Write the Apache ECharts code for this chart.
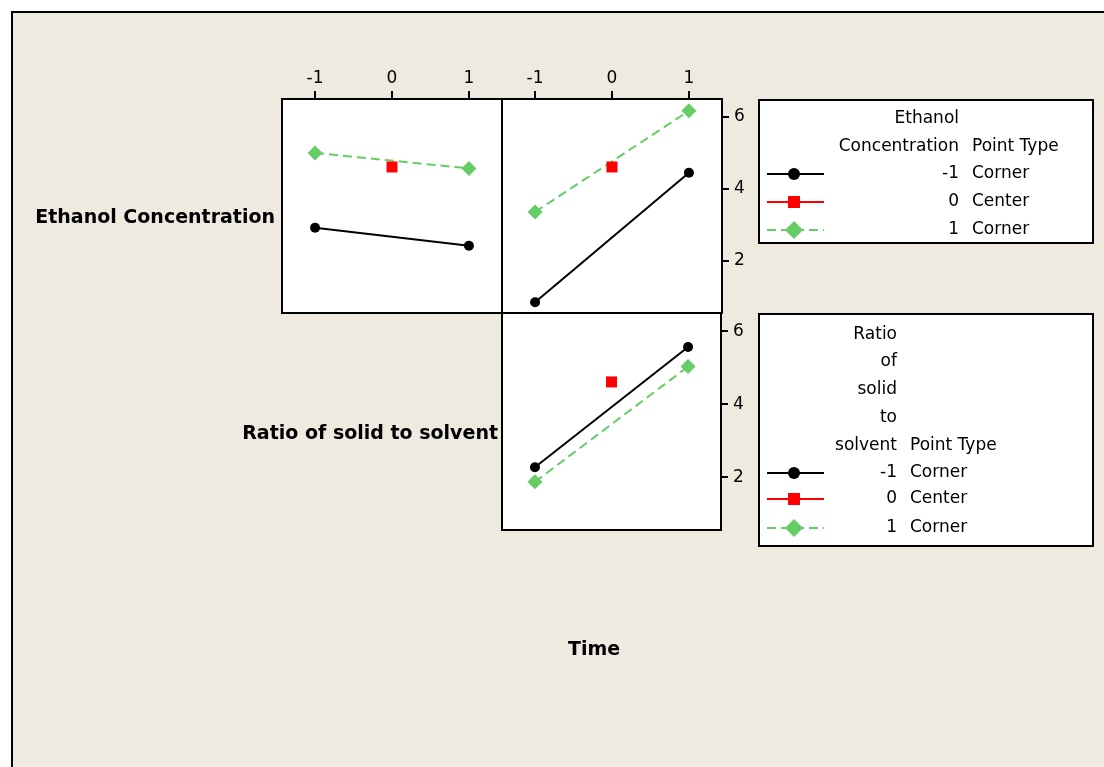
<!DOCTYPE html>
<html>
<head>
<meta charset="utf-8">
<script src="https://cdn.jsdelivr.net/npm/echarts@6/dist/echarts.min.js"></script>
<style>
  html, body { margin: 0; padding: 0; background: #fff; }
  #chart { width: 1104px; height: 767px; }
</style>
</head>
<body>
<div id="chart"></div>
<script>
// factor levels (coded)
var levels = [-1, 0, 1];
var axisTicks = [-1, 0, 1];
var yTicks = [2, 4, 6];

// panel 1: Ethanol Concentration traces vs Ratio of solid to solvent
var ethByRatioLow = [2.92, 2.42];
var ethByRatioHigh = [5.00, 4.57];
// panel 2: Ethanol Concentration traces vs Time
var ethByTimeLow = [0.85, 4.45];
var ethByTimeHigh = [3.36, 6.17];
// panel 3: Ratio of solid to solvent traces vs Time
var ratioByTimeLow = [2.27, 5.57];
var ratioByTimeHigh = [1.87, 5.03];
// center point mean
var centerValue = [4.61];

var rowNames = ['Ethanol Concentration', 'Ratio of solid to solvent'];
var pointTypes = ['Corner', 'Center', 'Corner'];

var FONT = 'DejaVu Sans';
var GREEN = '#66cc66';
var RED = '#ff0000';
var BG = '#eeeae0';

function pairs(vals) {
  return [[levels[0], vals[0]], [levels[2], vals[1]]];
}

function panelSeries(idx, low, high) {
  return [{
    type: 'line', xAxisIndex: idx, yAxisIndex: idx,
    data: pairs(low),
    symbol: 'circle', symbolSize: 10,
    itemStyle: { color: '#000' },
    lineStyle: { color: '#000', width: 2 },
    z: 3
  }, {
    type: 'line', xAxisIndex: idx, yAxisIndex: idx,
    data: pairs(high),
    symbol: 'diamond', symbolSize: 15,
    itemStyle: { color: GREEN },
    lineStyle: { color: GREEN, width: 2, type: [9, 5] },
    z: 3
  }, {
    type: 'scatter', xAxisIndex: idx, yAxisIndex: idx,
    data: [[levels[1], centerValue[0]]],
    symbol: 'rect', symbolSize: 11,
    itemStyle: { color: RED, opacity: 1 },
    z: 4
  }];
}

function xAx(grid, showLabels) {
  return {
    type: 'value', gridIndex: grid, position: 'top',
    min: -1.43, max: 1.43,
    axisLine: { show: false, onZero: false },
    splitLine: { show: false },
    axisTick: { show: showLabels, customValues: axisTicks, length: 8, lineStyle: { color: '#000', width: 2 } },
    axisLabel: { show: showLabels, customValues: axisTicks, margin: 12, fontFamily: FONT, fontSize: 17, color: '#000' }
  };
}

function yAx(grid, showLabels) {
  return {
    type: 'value', gridIndex: grid, position: 'right',
    min: 0.55, max: 6.5,
    axisLine: { show: false, onZero: false },
    splitLine: { show: false },
    axisTick: { show: showLabels, customValues: yTicks, length: 7, lineStyle: { color: '#000', width: 2 } },
    axisLabel: { show: showLabels, customValues: yTicks, margin: 12, fontFamily: FONT, fontSize: 17, color: '#000' }
  };
}

// legend box drawn with graphic elements
function legendBlock(top, bottom, headLines, rightX, rows) {
  var els = [{
    type: 'rect', shape: { x: 759, y: top, width: 334, height: bottom - top },
    style: { fill: '#fff', stroke: '#000', lineWidth: 2 }, z: 5
  }];
  headLines.forEach(function(h) {
    els.push({ type: 'text', x: rightX, y: h[1], z: 6,
      style: { text: h[0], font: '17px ' + FONT, fill: '#000', align: 'right', verticalAlign: 'middle' } });
  });
  els.push({ type: 'text', x: rightX + 13, y: headLines[headLines.length - 1][1], z: 6,
    style: { text: 'Point Type', font: '17px ' + FONT, fill: '#000', align: 'left', verticalAlign: 'middle' } });
  var colors = ['#000', RED, GREEN];
  rows.forEach(function(ry, i) {
    els.push({ type: 'text', x: rightX, y: ry, z: 6,
      style: { text: String(levels[i]), font: '17px ' + FONT, fill: '#000', align: 'right', verticalAlign: 'middle' } });
    els.push({ type: 'text', x: rightX + 13, y: ry, z: 6,
      style: { text: pointTypes[i], font: '17px ' + FONT, fill: '#000', align: 'left', verticalAlign: 'middle' } });
    els.push({ type: 'line', z: 6, shape: { x1: 767, y1: ry, x2: 824, y2: ry },
      style: { stroke: colors[i], lineWidth: 2, lineDash: i == 2 ? [9, 5] : null } });
    if (i == 0) {
      els.push({ type: 'circle', z: 7, shape: { cx: 794, cy: ry, r: 6 }, style: { fill: '#000' } });
    } else if (i == 1) {
      els.push({ type: 'rect', z: 7, shape: { x: 788, y: ry - 6, width: 12, height: 12 }, style: { fill: RED } });
    } else {
      els.push({ type: 'polygon', z: 7, shape: { points: [[794, ry - 9], [803, ry], [794, ry + 9], [785, ry]] }, style: { fill: GREEN } });
    }
  });
  return els;
}

var chart = echarts.init(document.getElementById('chart'), null, { renderer: 'canvas' });

var graphics = [{
  type: 'rect', z: -10, silent: true,
  shape: { x: 12, y: 12, width: 1200, height: 900 },
  style: { fill: BG, stroke: '#000', lineWidth: 2 }
}, {
  type: 'text', x: 275, y: 218,
  style: { text: rowNames[0], font: 'bold 19px ' + FONT, fill: '#000', align: 'right', verticalAlign: 'middle' }
}, {
  type: 'text', x: 498, y: 434,
  style: { text: rowNames[1], font: 'bold 19px ' + FONT, fill: '#000', align: 'right', verticalAlign: 'middle' }
}, {
  type: 'text', x: 594, y: 650,
  style: { text: 'Time', font: 'bold 19px ' + FONT, fill: '#000', align: 'center', verticalAlign: 'middle' }
}];
graphics = graphics.concat(legendBlock(100, 243, [['Ethanol', 119], ['Concentration', 147]], 959, [174, 202, 230]));
graphics = graphics.concat(legendBlock(314, 546, [['Ratio', 335], ['of', 362], ['solid', 390], ['to', 418], ['solvent', 446]], 897, [473, 499, 528]));

chart.setOption({
  backgroundColor: '#fff',
  animation: false,
  grid: [
    { left: 282, top: 99, width: 220, height: 214, show: true, backgroundColor: '#fff', borderColor: '#000', borderWidth: 2 },
    { left: 502, top: 99, width: 220, height: 214, show: true, backgroundColor: '#fff', borderColor: '#000', borderWidth: 2 },
    { left: 502, top: 313, width: 219, height: 217, show: true, backgroundColor: '#fff', borderColor: '#000', borderWidth: 2 }
  ],
  xAxis: [xAx(0, true), xAx(1, true), xAx(2, false)],
  yAxis: [yAx(0, false), yAx(1, true), yAx(2, true)],
  graphic: graphics,
  series: []
    .concat(panelSeries(0, ethByRatioLow, ethByRatioHigh))
    .concat(panelSeries(1, ethByTimeLow, ethByTimeHigh))
    .concat(panelSeries(2, ratioByTimeLow, ratioByTimeHigh))
});
</script>
</body>
</html>
